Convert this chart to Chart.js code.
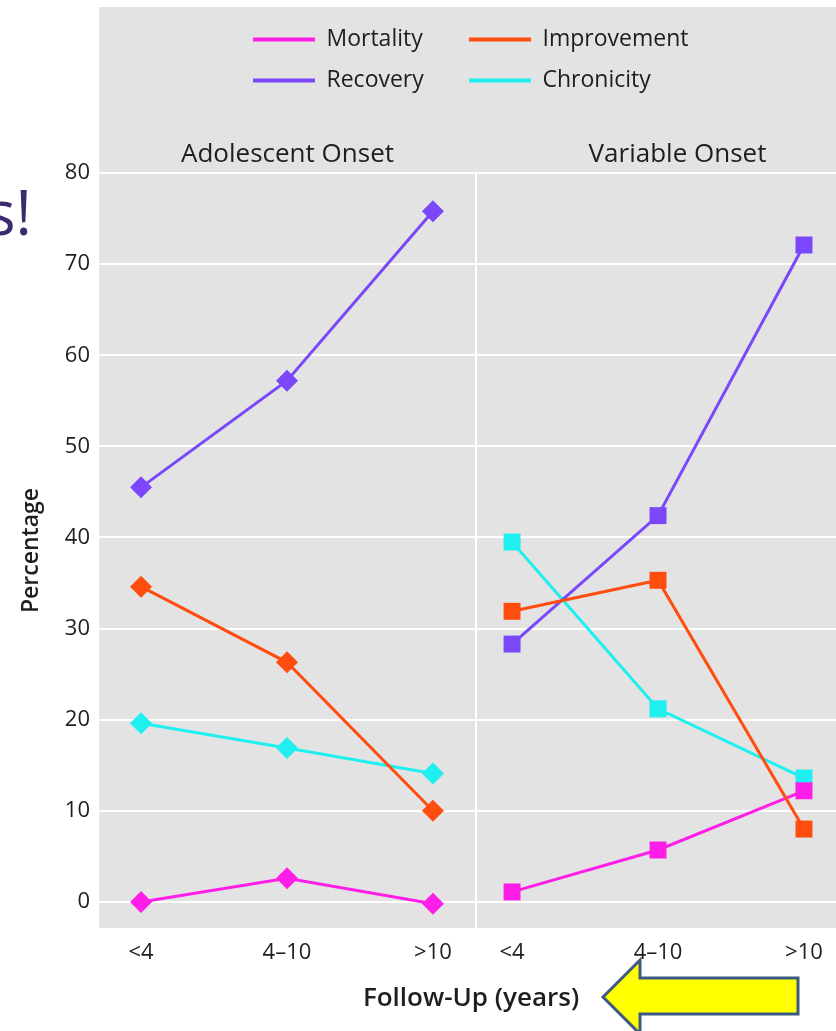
<!DOCTYPE html>
<html>
<head>
<meta charset="utf-8">
<script src="https://cdn.jsdelivr.net/npm/chart.js@4.4.1/dist/chart.umd.min.js"></script>
<style>
  html, body { margin: 0; padding: 0; background: #fff; }
  body { width: 836px; height: 1031px; overflow: hidden; position: relative; font-family: 'Open Sans', sans-serif; }
  #panel { position: absolute; left: 99px; top: 7px; width: 780px; height: 921px; background: #e3e3e3; }
  canvas { position: absolute; }
  #main { left: 0; top: 0; }
  #leg1 { left: 235px; top: 10px; }
  #leg2 { left: 451px; top: 10px; }
  #slide { position: absolute; left: -14px; top: 180px; font-size: 62px; line-height: 1; color: #3b2a6e; }
  #arrow { position: absolute; left: 590px; top: 950px; }
</style>
</head>
<body>
<div id="panel"></div>
<div id="slide">s!</div>
<canvas id="main" width="879" height="1031"></canvas>
<canvas id="leg1" width="260" height="240"></canvas>
<canvas id="leg2" width="260" height="240"></canvas>
<svg id="arrow" width="246" height="81">
  <polygon points="13,47 50,10 50,28 208,28 208,64 50,64 50,84" fill="#ffff00" stroke="#3e5a82" stroke-width="3"/>
</svg>
<script>
const categories = ['<4', '4–10', '>10'];
const seriesNames = ['Mortality', 'Improvement', 'Recovery', 'Chronicity'];
const seriesColors = ['#ff1ee8', '#ff4d0f', '#7b47fb', '#1ff0ef'];
const yTicks = [0, 10, 20, 30, 40, 50, 60, 70, 80];
const panelTitles = ['Adolescent Onset', 'Variable Onset'];

// Adolescent onset (left panel)
const adolMortality = [0, 2.6, -0.2];
const adolImprovement = [34.6, 26.3, 10.0];
const adolRecovery = [45.5, 57.2, 75.8];
const adolChronicity = [19.6, 16.9, 14.1];

// Variable onset (right panel)
const varMortality = [1.1, 5.7, 12.2];
const varImprovement = [31.9, 35.3, 8.0];
const varRecovery = [28.3, 42.4, 72.1];
const varChronicity = [39.5, 21.2, 13.6];

Chart.defaults.font.family = "'Open Sans', sans-serif";
Chart.defaults.color = '#1e1e1e';

const panels = [
  { axis: 'xL', marker: 'rectRot', radius: 11, series: [adolMortality, adolImprovement, adolRecovery, adolChronicity] },
  { axis: 'xR', marker: 'rect', radius: 12, series: [varMortality, varImprovement, varRecovery, varChronicity] }
];
const drawOrder = [1, 0, 2, 3]; // lower = drawn on top

const datasets = [];
panels.forEach(p => {
  p.series.forEach((vals, s) => {
    datasets.push({
      label: seriesNames[s],
      data: vals.map((v, i) => ({ x: i, y: v })),
      xAxisID: p.axis,
      yAxisID: 'y',
      borderColor: seriesColors[s],
      backgroundColor: seriesColors[s],
      borderWidth: 3,
      pointStyle: p.marker,
      pointRadius: p.radius,
      pointBorderWidth: 0,
      pointBackgroundColor: seriesColors[s],
      order: drawOrder[s]
    });
  });
});

const catTicks = scale => { scale.ticks = categories.map((c, i) => ({ value: i })); };

// fixed sizes, no extra label padding pushed onto the chart area
const fixHeight = h => s => { s.height = h; s.paddingLeft = 0; s.paddingRight = 0; };

const bottomAxis = (min, max, w) => ({
  type: 'linear', position: 'bottom', stack: 'bottom', stackWeight: w, weight: 1,
  min: min, max: max,
  afterBuildTicks: catTicks,
  afterFit: fixHeight(45),
  grid: { display: false },
  border: { display: false },
  ticks: { callback: v => categories[v], padding: 4, font: { size: 22 }, maxRotation: 0, autoSkip: false }
});

// top axes carry the panel titles; top stack is laid out by descending weight
const topAxis = (title, w, order, separator) => ({
  type: 'linear', position: 'top', stack: 'top', stackWeight: w, weight: order,
  min: 0, max: 1,
  afterBuildTicks: s => { s.ticks = [{ value: 0 }]; },
  afterFit: fixHeight(173),
  ticks: { display: false },
  grid: { display: separator, color: '#ffffff', lineWidth: 2, drawTicks: false },
  border: { display: false },
  title: { display: true, text: title, font: { size: 26 }, padding: { top: 139, bottom: 0 } }
});

const blankAxis = (w, order, h) => ({
  type: 'linear', position: 'bottom', stack: 'all', stackWeight: w, weight: order, min: 0, max: 1,
  afterFit: fixHeight(h),
  ticks: { display: false },
  grid: { display: false },
  border: { display: false }
});

const xAll = blankAxis(744, 2, 58);
xAll.title = { display: true, text: 'Follow-Up (years)', font: { size: 26, weight: '600' }, padding: { top: 0, bottom: 17 } };

new Chart(document.getElementById('main'), {
  type: 'line',
  data: { datasets: datasets },
  options: {
    responsive: false,
    animation: false,
    layout: { padding: 0, autoPadding: false },
    plugins: { legend: { display: false }, tooltip: { enabled: false } },
    scales: {
      xL: bottomAxis(-0.288, 2.295, 377),
      xR: bottomAxis(-0.247, 2.514, 403),
      xTL: topAxis(panelTitles[0], 377, 1, false),
      xTR: topAxis(panelTitles[1], 403, 0, true),
      xAll: xAll,
      xGap: blankAxis(36, 2, 58),
      y: {
        type: 'linear', position: 'left', min: -2.86, max: 80,
        afterBuildTicks: s => { s.ticks = yTicks.map(v => ({ value: v })); },
        afterFit: s => { s.width = 99; s.paddingTop = 0; s.paddingBottom = 0; },
        grid: { color: '#ffffff', lineWidth: 2, drawTicks: false },
        border: { display: false },
        ticks: { padding: 9, font: { size: 22 } },
        title: { display: true, text: 'Percentage', font: { size: 23, weight: '600' }, padding: { top: 18, bottom: 0 } }
      }
    }
  }
});

function legendChart(id, idx) {
  new Chart(document.getElementById(id), {
    type: 'line',
    data: {
      datasets: idx.map(s => ({
        label: seriesNames[s], data: [],
        borderColor: seriesColors[s], backgroundColor: seriesColors[s], borderWidth: 0
      }))
    },
    options: {
      responsive: false,
      animation: false,
      scales: { x: { display: false }, y: { display: false } },
      plugins: {
        tooltip: { enabled: false },
        legend: {
          position: 'top', align: 'start',
          labels: { boxWidth: 62, boxHeight: 4, padding: 18, color: '#1e1e1e', font: { size: 23 } }
        }
      }
    }
  });
}
legendChart('leg1', [0, 2]);
legendChart('leg2', [1, 3]);
</script>
</body>
</html>
